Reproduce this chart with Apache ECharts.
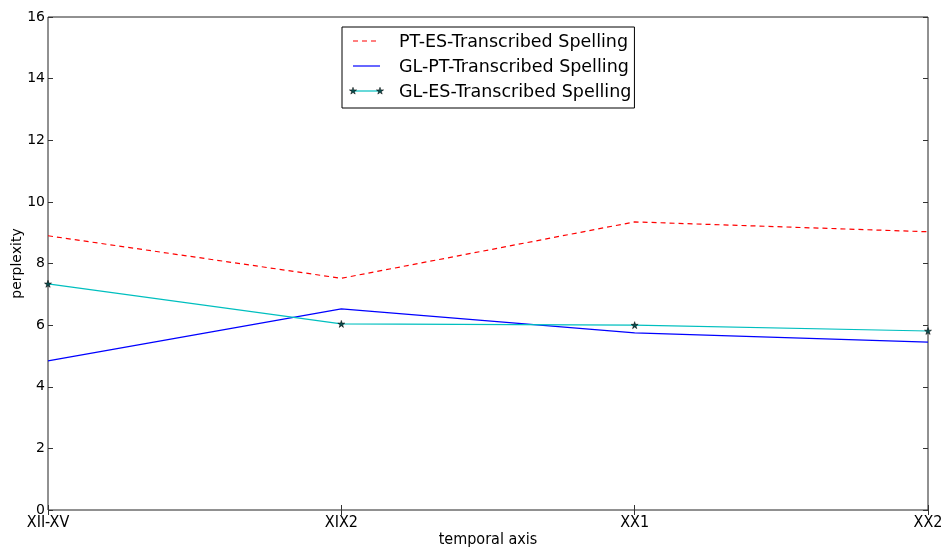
<!DOCTYPE html>
<html>
<head>
<meta charset="utf-8">
<script src="https://cdn.jsdelivr.net/npm/echarts@6/dist/echarts.min.js"></script>
<style>
  html, body { margin: 0; padding: 0; background: #fff; }
  #chart { width: 948px; height: 552px; }
</style>
</head>
<body>
<div id="chart"></div>
<script>
// 数据
var periods = ['XII-XV', 'XIX2', 'XX1', 'XX2'];
var ptEs = [8.9, 7.52, 9.35, 9.03];
var glPt = [4.84, 6.53, 5.75, 5.45];
var glEs = [7.34, 6.04, 6.0, 5.81];
var yTicks = [0, 2, 4, 6, 8, 10, 12, 14, 16];

var starPts = [[50,0],[61,35],[98,35],[68,57],[79,91],[50,70],[21,91],[32,57],[2,35],[39,35]];
var star = 'path://M' + starPts.map(function (p) { return p.join(','); }).join(' L') + ' Z';
var font = 'DejaVu Sans';
var cond = 'DejaVu Sans Condensed';

// 图例图标（手工绘制，带两端星号）
var hidden = { itemStyle: { opacity: 0 }, lineStyle: { opacity: 0 } };
function legendStar(x, y) {
  return {
    type: 'polygon', z: 100,
    shape: { points: starPts.map(function (p) { return [x + (p[0] - 50) * 0.075, y + (p[1] - 50) * 0.075]; }) },
    style: { fill: '#0b4f4f', stroke: '#000', lineWidth: 0.5 }
  };
}

var myChart = echarts.init(document.getElementById('chart'));
myChart.setOption({
  animation: false,
  textStyle: { fontFamily: font },
  grid: {
    left: 48, right: 20, top: 17, bottom: 42,
    outerBoundsMode: 'none',
    containLabel: false,
    show: true, borderColor: '#222', borderWidth: 1
  },
  legend: {
    orient: 'vertical',
    left: 342, top: 27,
    padding: [6, 3, 7, 19],
    itemWidth: 32,
    itemHeight: 20,
    itemGap: 7,
    itemTextGap: 25,
    borderColor: '#000', borderWidth: 1, backgroundColor: '#fff',
    borderRadius: 0,
    textStyle: { fontSize: 17.5, color: '#000', fontFamily: font },
    data: [
      Object.assign({ name: 'PT-ES-Transcribed Spelling' }, hidden),
      Object.assign({ name: 'GL-PT-Transcribed Spelling' }, hidden),
      Object.assign({ name: 'GL-ES-Transcribed Spelling' }, hidden)
    ]
  },
  graphic: [
    { type: 'line', z: 100, shape: { x1: 353, y1: 41, x2: 380, y2: 41 }, style: { stroke: '#ff0000', lineWidth: 1.2, lineDash: [5, 4] } },
    { type: 'line', z: 100, shape: { x1: 353, y1: 66, x2: 380, y2: 66 }, style: { stroke: '#0000ff', lineWidth: 1.2 } },
    { type: 'line', z: 100, shape: { x1: 353, y1: 91, x2: 380, y2: 91 }, style: { stroke: '#00bfbf', lineWidth: 1.2 } },
    legendStar(353, 91),
    legendStar(380, 91)
  ],
  xAxis: [{
    type: 'category',
    data: periods,
    boundaryGap: false,
    name: 'temporal axis',
    nameLocation: 'middle',
    nameGap: 22,
    nameMoveOverlap: false,
    nameTextStyle: { fontSize: 16, color: '#000', fontFamily: cond },
    axisLine: { show: false },
    axisTick: { show: true, inside: true, length: 5, lineStyle: { color: '#333' } },
    axisLabel: { fontSize: 16, color: '#000', margin: 5, fontFamily: cond },
    splitLine: { show: false }
  }, {
    type: 'category',
    data: periods,
    boundaryGap: false,
    position: 'top',
    axisLine: { show: false },
    axisTick: { show: true, inside: true, length: 5, lineStyle: { color: '#333' } },
    axisLabel: { show: false },
    splitLine: { show: false }
  }],
  yAxis: [{
    type: 'value',
    min: yTicks[0], max: yTicks[yTicks.length - 1], interval: 2,
    name: 'perplexity',
    nameLocation: 'middle',
    nameGap: 24,
    nameMoveOverlap: false,
    nameTextStyle: { fontSize: 14, color: '#000' },
    axisLine: { show: false },
    axisTick: { show: true, inside: true, length: 5, lineStyle: { color: '#333' } },
    axisLabel: { fontSize: 14, color: '#000', margin: 3 },
    splitLine: { show: false }
  }, {
    type: 'value',
    min: yTicks[0], max: yTicks[yTicks.length - 1], interval: 2,
    position: 'right',
    axisLine: { show: false },
    axisTick: { show: true, inside: true, length: 5, lineStyle: { color: '#333' } },
    axisLabel: { show: false },
    splitLine: { show: false }
  }],
  series: [{
    name: 'PT-ES-Transcribed Spelling',
    type: 'line',
    data: ptEs,
    symbol: 'none',
    color: '#ff0000',
    lineStyle: { color: '#ff0000', width: 1.2, type: [5, 4] }
  }, {
    name: 'GL-PT-Transcribed Spelling',
    type: 'line',
    data: glPt,
    symbol: 'none',
    color: '#0000ff',
    lineStyle: { color: '#0000ff', width: 1.2 }
  }, {
    name: 'GL-ES-Transcribed Spelling',
    type: 'line',
    data: glEs,
    symbol: star,
    symbolSize: 7,
    showAllSymbol: true,
    color: '#00bfbf',
    itemStyle: { color: '#0b4f4f', borderColor: '#000', borderWidth: 0.5 },
    lineStyle: { color: '#00bfbf', width: 1.2 }
  }]
});
</script>
</body>
</html>
